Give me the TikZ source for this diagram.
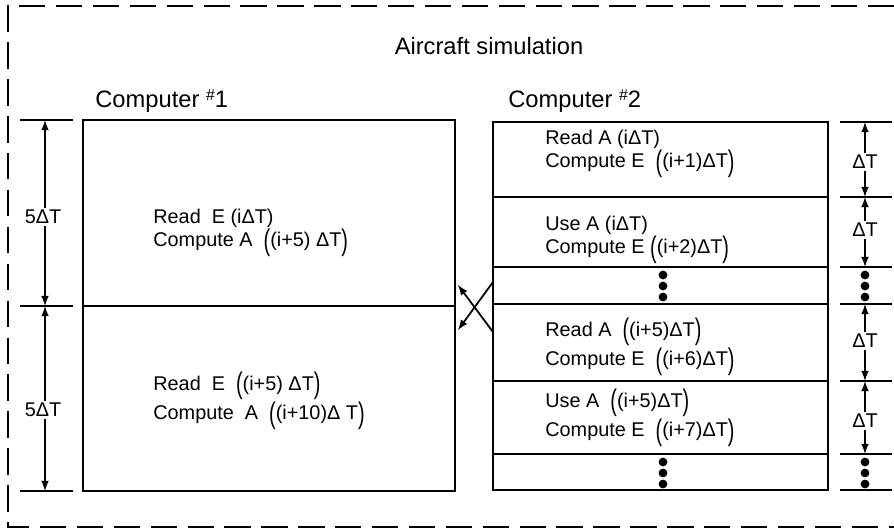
\documentclass[tikz,border=0pt]{standalone}
\usepackage{fontspec}
\setmainfont{Liberation Sans}
\newcommand{\lpar}{\raisebox{-0.35ex}{\scalebox{1}[1.5]{(}}}
\newcommand{\rpar}{\raisebox{-0.35ex}{\scalebox{1}[1.5]{)}}}
\newcommand{\cnum}[1]{\raisebox{0.55ex}{\small\#}#1}

\begin{document}
\begin{tikzpicture}[>=latex,x=0.02cm,y=-0.02cm,
    box/.style={line width=1.6pt},
    dim/.style={line width=1pt},
    head/.style={inner sep=0pt,font=\fontsize{13.5}{15}\selectfont},
    lbl/.style={anchor=west,align=left,inner sep=0pt,font=\fontsize{11.3}{13}\selectfont},
    dimlbl/.style={inner sep=1pt,fill=white,font=\fontsize{11.3}{13}\selectfont}]
          \useasboundingbox (0,0) rectangle (894,529);
          \draw[line width=1.5pt,dash pattern=on 15pt off 6pt] (894,6) -- (8,6) -- (8,527) -- (894,527);
          \node[head] (title) at (489,46) {Aircraft simulation};
          \node[head,anchor=west] (comp1) at (95,101) {Computer \cnum{1}};
          \node[head,anchor=west] (comp2) at (508,101) {Computer \cnum{2}};
          % computer 1
          \draw[box] (83,120) rectangle (455,491);
          \draw[box] (83,306) -- (455,306);
          \node[lbl] (readE) at (153,233) {Read\ \ E (iΔT)\\Compute A\ \ \lpar(i+5) ΔT\rpar};
          \node[lbl] (readEfive) at (153,401) {Read\ \ E\ \ \lpar(i+5) ΔT\rpar\\Compute\ \ A\ \ \lpar(i+10)Δ T\rpar};
          % computer 2
          \draw[box] (493,122) rectangle (828,490);
          \foreach \y in {197,267,304,381,454}
            \draw[box] (493,\y) -- (828,\y);
          \node[lbl] (readA) at (545,154) {Read A (iΔT)\\Compute E\ \ \lpar(i+1)ΔT\rpar};
          \node[lbl] (useA) at (545,240) {Use A (iΔT)\\Compute E \lpar(i+2)ΔT\rpar};
          \node[lbl] (readAfive) at (545,347) {Read A\ \ \lpar(i+5)ΔT\rpar\\Compute E\ \ \lpar(i+6)ΔT\rpar};
          \node[lbl] (useAfive) at (545,418) {Use A\ \ \lpar(i+5)ΔT\rpar\\Compute E\ \ \lpar(i+7)ΔT\rpar};
          \foreach \y in {275,286,297,462,473,484} {
            \fill (663,\y) circle (2.5pt);
            \fill (865,\y) circle (2.5pt);
          }
          % exchange
          \coordinate (sendA) at (493,282);
          \coordinate (getA) at (458,330);
          \coordinate (sendE) at (493,332);
          \coordinate (getE) at (458,285);
          \draw[dim,->] (sendA) -- (getA);
          \draw[dim,->] (sendE) -- (getE);
          % left dimensions
          \foreach \y/\n in {120/0,306/1,491/2} {
            \draw[dim] (20,\y) -- (73,\y);
            \coordinate (lt\n) at (45,\y);
          }
          \node[dimlbl] (five1) at (43,217) {5ΔT};
          \node[dimlbl] (five2) at (43,410) {5ΔT};
          \draw[dim,->] (five1.north -| lt0) -- (lt0);
          \draw[dim,->] (five1.south -| lt1) -- (lt1);
          \draw[dim,->] (five2.north -| lt1) -- (lt1);
          \draw[dim,->] (five2.south -| lt2) -- (lt2);
          % right dimensions
          \foreach \y/\n in {122/0,197/1,267/2,304/3,381/4,454/5,490/6} {
            \draw[dim] (840,\y) -- (892,\y);
            \coordinate (rt\n) at (865,\y);
          }
          \node[dimlbl] (dt1) at (865,162) {ΔT};
          \node[dimlbl] (dt2) at (865,230) {ΔT};
          \node[dimlbl] (dt3) at (865,341) {ΔT};
          \node[dimlbl] (dt4) at (865,421) {ΔT};
          \draw[dim,->] (dt1) -- (rt0);
          \draw[dim,->] (dt1) -- (rt1);
          \draw[dim,->] (dt2) -- (rt1);
          \draw[dim,->] (dt2) -- (rt2);
          \draw[dim,->] (dt3) -- (rt3);
          \draw[dim,->] (dt3) -- (rt4);
          \draw[dim,->] (dt4) -- (rt4);
          \draw[dim,->] (dt4) -- (rt5);
        \end{tikzpicture}
\end{document}
